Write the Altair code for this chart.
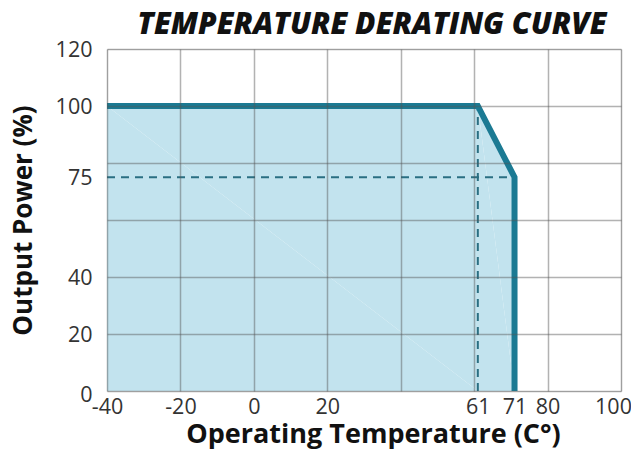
import altair as alt
import pandas as pd

# Derating curve (temperature °C, output power %)
curve_temp = [-40, 61, 71, 71]
curve_power = [100, 100, 75, 0]

# Reference dashed lines
h_dash_x = [-40, 71]
h_dash_y = [75, 75]
v_dash_x = [61, 61]
v_dash_y = [0, 100]

# Axis tick labels and grid positions
x_labels = [-40, -20, 0, 20, 61, 71, 80, 100]
x_grid = [-40, -20, 0, 20, 40, 60, 80, 100]
y_labels = [0, 20, 40, 75, 100, 120]
y_grid = [0, 20, 40, 60, 80, 100, 120]

curve_df = pd.DataFrame({"t": curve_temp, "p": curve_power, "o": list(range(len(curve_temp)))})
hdash_df = pd.DataFrame({"t": [h_dash_x[0]], "t2": [h_dash_x[1]], "p": [h_dash_y[0]]})
vdash_df = pd.DataFrame({"t": [v_dash_x[0]], "p": [v_dash_y[0]], "p2": [v_dash_y[1]]})

FONT = "Open Sans"
LINE = "#1b7a93"

xscale = alt.Scale(domain=[-40, 100], nice=False, zero=False)
yscale = alt.Scale(domain=[0, 120], nice=False, zero=False)

grid_x_axis = alt.Axis(values=x_grid, grid=True, labels=False, ticks=False, domain=False,
                       title=None, orient="bottom", gridColor="#555555", gridWidth=1.5,
                       gridOpacity=0.45, zindex=1)
grid_y_axis = alt.Axis(values=y_grid, grid=True, labels=False, ticks=False, domain=False,
                       title=None, orient="left", gridColor="#555555", gridWidth=1.5,
                       gridOpacity=0.45, zindex=1)

lab_x_axis = alt.Axis(values=x_labels, grid=False, ticks=False, domain=False, orient="bottom",
                      title="Operating Temperature (C°)", labelFont=FONT, labelFontSize=21.5,
                      labelColor="#333333", labelPadding=5, titleFont=FONT, titleFontSize=27,
                      titleFontWeight="bold", titleColor="#111111", titlePadding=4, titleX=266,
                      labelFlush=False, labelOverlap=False, labelExpr="'' + datum.value",
                      labelOffset=alt.expr("datum.value == 100 ? -8 : 0"))
lab_y_axis = alt.Axis(values=y_labels, grid=False, ticks=False, domain=False, orient="left",
                      title="Output Power (%)", labelFont=FONT, labelFontSize=21.5,
                      labelColor="#333333", labelPadding=15,
                      labelOffset=alt.expr("datum.value == 0 ? 4 : 1"), titleFont=FONT,
                      titleFontSize=26, titleFontWeight="bold", titleColor="#111111",
                      titlePadding=19, labelFlush=False, labelOverlap=False)

area = alt.Chart(curve_df).mark_area(color="#c2e3ee", opacity=1).encode(
    x=alt.X("t:Q", scale=xscale, axis=grid_x_axis),
    y=alt.Y("p:Q", scale=yscale, axis=grid_y_axis),
    order="o:Q",
)

hdash = alt.Chart(hdash_df).mark_rule(color="#2a6f82", strokeWidth=2, strokeDash=[8, 6]).encode(
    x=alt.X("t:Q", scale=xscale, axis=None), x2="t2:Q", y=alt.Y("p:Q", scale=yscale, axis=None)
)
vdash = alt.Chart(vdash_df).mark_rule(color="#2a6f82", strokeWidth=2, strokeDash=[8, 6]).encode(
    x=alt.X("t:Q", scale=xscale, axis=None), y=alt.Y("p:Q", scale=yscale, axis=None), y2="p2:Q"
)

line = alt.Chart(curve_df).mark_line(color=LINE, strokeWidth=6, strokeCap="butt").encode(
    x=alt.X("t:Q", scale=xscale, axis=lab_x_axis),
    y=alt.Y("p:Q", scale=yscale, axis=lab_y_axis),
    order="o:Q",
)

chart = alt.layer(area, hdash, vdash, line).resolve_axis(x="independent", y="independent").properties(
    width=514,
    height=342,
    autosize=alt.AutoSizeParams(type="none"),
    padding={"left": 99, "top": 41, "right": 10, "bottom": 63},
    title=alt.TitleParams(
        "TEMPERATURE DERATING CURVE", font=FONT, fontSize=30, fontWeight=800, fontStyle="italic",
        color="#111111", anchor="middle", dx=8, offset=-1,
    ),
).configure_view(stroke="#333333", strokeWidth=2).configure(background="white")

chart.save("out.html", embed_options={"renderer": "svg", "actions": False})
